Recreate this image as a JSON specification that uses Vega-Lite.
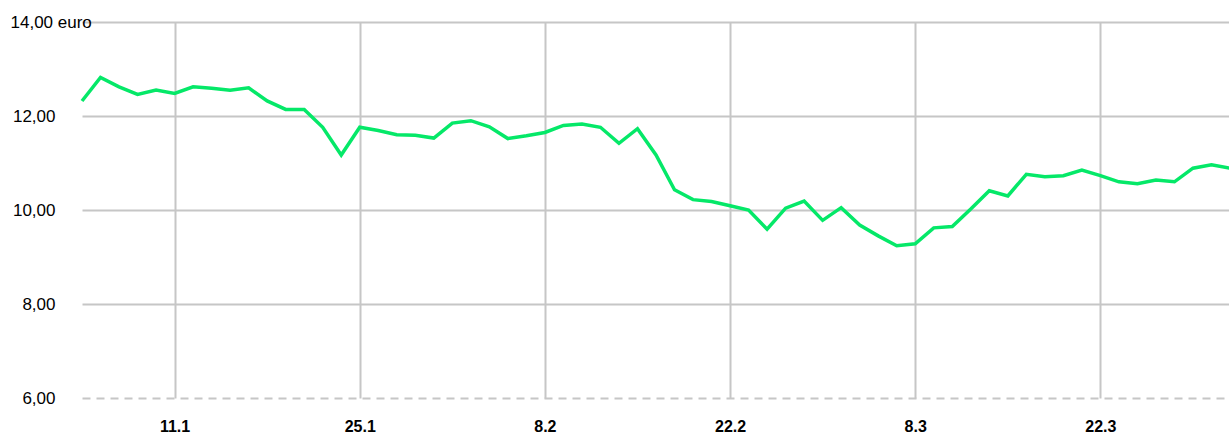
{
  "$schema": "https://vega.github.io/schema/vega-lite/v6.json",
  "width": 1156,
  "height": 376,
  "autosize": {"type": "none"},
  "padding": {"left": 73, "top": 22, "right": 0, "bottom": 36},
  "background": "white",
  "config": {"view": {"stroke": null}},
  "data": {
    "values": [
      {"date": "2021-01-04", "price": 12.32},
      {"date": "2021-01-05", "price": 12.82},
      {"date": "2021-01-06", "price": 12.62},
      {"date": "2021-01-07", "price": 12.46},
      {"date": "2021-01-08", "price": 12.55},
      {"date": "2021-01-11", "price": 12.48},
      {"date": "2021-01-12", "price": 12.62},
      {"date": "2021-01-13", "price": 12.59},
      {"date": "2021-01-14", "price": 12.55},
      {"date": "2021-01-15", "price": 12.6},
      {"date": "2021-01-18", "price": 12.32},
      {"date": "2021-01-19", "price": 12.14},
      {"date": "2021-01-20", "price": 12.14},
      {"date": "2021-01-21", "price": 11.76},
      {"date": "2021-01-22", "price": 11.17},
      {"date": "2021-01-25", "price": 11.76},
      {"date": "2021-01-26", "price": 11.69},
      {"date": "2021-01-27", "price": 11.6},
      {"date": "2021-01-28", "price": 11.59},
      {"date": "2021-01-29", "price": 11.53},
      {"date": "2021-02-01", "price": 11.85},
      {"date": "2021-02-02", "price": 11.9},
      {"date": "2021-02-03", "price": 11.77},
      {"date": "2021-02-04", "price": 11.52},
      {"date": "2021-02-05", "price": 11.58},
      {"date": "2021-02-08", "price": 11.65},
      {"date": "2021-02-09", "price": 11.8},
      {"date": "2021-02-10", "price": 11.83},
      {"date": "2021-02-11", "price": 11.76},
      {"date": "2021-02-12", "price": 11.42},
      {"date": "2021-02-15", "price": 11.73},
      {"date": "2021-02-16", "price": 11.17},
      {"date": "2021-02-17", "price": 10.43},
      {"date": "2021-02-18", "price": 10.22},
      {"date": "2021-02-19", "price": 10.18},
      {"date": "2021-02-22", "price": 10.09},
      {"date": "2021-02-23", "price": 10.0},
      {"date": "2021-02-24", "price": 9.59},
      {"date": "2021-02-25", "price": 10.04},
      {"date": "2021-02-26", "price": 10.19},
      {"date": "2021-03-01", "price": 9.78},
      {"date": "2021-03-02", "price": 10.05},
      {"date": "2021-03-03", "price": 9.68},
      {"date": "2021-03-04", "price": 9.45},
      {"date": "2021-03-05", "price": 9.24},
      {"date": "2021-03-08", "price": 9.28},
      {"date": "2021-03-09", "price": 9.62},
      {"date": "2021-03-10", "price": 9.65},
      {"date": "2021-03-11", "price": 10.02},
      {"date": "2021-03-12", "price": 10.41},
      {"date": "2021-03-15", "price": 10.3},
      {"date": "2021-03-16", "price": 10.76},
      {"date": "2021-03-17", "price": 10.71},
      {"date": "2021-03-18", "price": 10.73},
      {"date": "2021-03-19", "price": 10.85},
      {"date": "2021-03-22", "price": 10.73},
      {"date": "2021-03-23", "price": 10.6},
      {"date": "2021-03-24", "price": 10.56},
      {"date": "2021-03-25", "price": 10.64},
      {"date": "2021-03-26", "price": 10.6},
      {"date": "2021-03-29", "price": 10.89},
      {"date": "2021-03-30", "price": 10.96},
      {"date": "2021-03-31", "price": 10.89}
    ]
  },
  "mark": {"type": "line", "color": "#05e868", "strokeWidth": 3.5, "clip": false},
  "encoding": {
    "x": {
      "field": "date",
      "type": "ordinal",
      "sort": null,
      "scale": {"type": "point", "range": [9, 1157], "padding": 0},
      "axis": {
        "title": null,
        "values": ["2021-01-11", "2021-01-25", "2021-02-08", "2021-02-22", "2021-03-08", "2021-03-22"],
        "labelExpr": "parseInt(substring(datum.value, 8, 10)) + '.' + parseInt(substring(datum.value, 5, 7))",
        "domain": false,
        "ticks": false,
        "tickSize": 0,
        "grid": true,
        "gridColor": "#c6c6c6",
        "gridWidth": 2,
        "labelAngle": 0,
        "labelFont": "Liberation Sans",
        "labelFontSize": 16,
        "labelFontWeight": "bold",
        "labelColor": "#000000",
        "labelPadding": 20,
        "labelBaseline": "top"
      }
    },
    "y": {
      "field": "price",
      "type": "quantitative",
      "scale": {"domain": [6, 14], "nice": false, "zero": false},
      "axis": {
        "title": null,
        "values": [6, 8, 10, 12, 14],
        "labelExpr": "datum.value == 14 ? '14,00 euro' : replace(format(datum.value, '.2f'), '.', ',')",
        "domain": false,
        "ticks": false,
        "tickSize": 0,
        "grid": true,
        "gridColor": "#c6c6c6",
        "gridWidth": 2,
        "gridDash": {"condition": {"test": "datum.value == 6", "value": [8, 6]}, "value": []},
        "labelFont": "Liberation Sans",
        "labelFontSize": 17,
        "labelColor": "#000000",
        "labelAlign": {"condition": {"test": "datum.value == 14", "value": "left"}, "value": "right"},
        "labelPadding": {"condition": {"test": "datum.value == 14", "value": 63}, "value": 18},
        "labelBaseline": "middle"
      }
    }
  }
}
